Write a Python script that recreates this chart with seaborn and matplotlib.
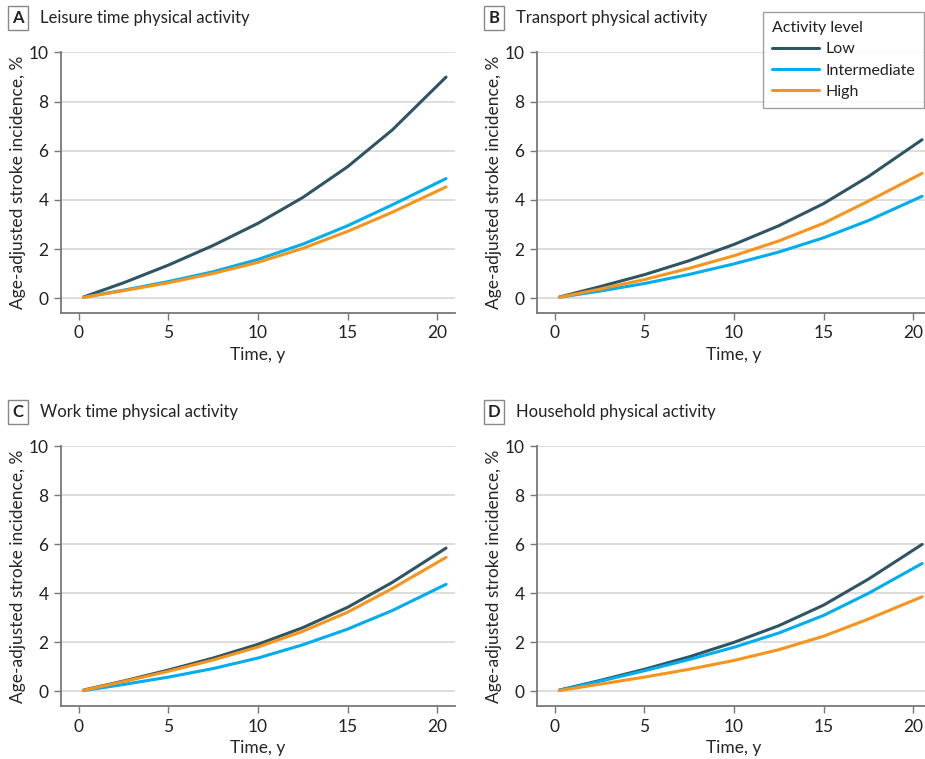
import matplotlib
matplotlib.use("Agg")
import matplotlib.pyplot as plt
from matplotlib.lines import Line2D
import seaborn as sns
import pandas as pd

# ---------------- data ----------------
time_y = [0.25, 2.5, 5, 7.5, 10, 12.5, 15, 17.5, 20.5]
levels = ["Low", "Intermediate", "High"]

leisure_low = [0.05, 0.63, 1.35, 2.15, 3.05, 4.1, 5.35, 6.85, 9.0]
leisure_int = [0.04, 0.33, 0.68, 1.08, 1.58, 2.2, 2.95, 3.8, 4.87]
leisure_high = [0.03, 0.31, 0.63, 1.01, 1.46, 2.03, 2.72, 3.5, 4.53]

transport_low = [0.05, 0.47, 0.96, 1.53, 2.19, 2.95, 3.85, 4.95, 6.45]
transport_int = [0.04, 0.29, 0.6, 0.97, 1.4, 1.88, 2.46, 3.16, 4.15]
transport_high = [0.04, 0.37, 0.76, 1.22, 1.73, 2.33, 3.05, 3.95, 5.08]

work_low = [0.05, 0.42, 0.87, 1.36, 1.92, 2.6, 3.43, 4.45, 5.85]
work_int = [0.03, 0.28, 0.58, 0.93, 1.36, 1.9, 2.54, 3.3, 4.37]
work_high = [0.04, 0.4, 0.82, 1.28, 1.81, 2.45, 3.23, 4.2, 5.47]

house_low = [0.05, 0.44, 0.9, 1.41, 2.0, 2.68, 3.52, 4.58, 6.0]
house_int = [0.04, 0.41, 0.84, 1.3, 1.8, 2.38, 3.1, 4.0, 5.22]
house_high = [0.03, 0.29, 0.58, 0.9, 1.26, 1.7, 2.25, 2.95, 3.86]

panels = [
    ("A", "Leisure time physical activity", leisure_low, leisure_int, leisure_high),
    ("B", "Transport physical activity", transport_low, transport_int, transport_high),
    ("C", "Work time physical activity", work_low, work_int, work_high),
    ("D", "Household physical activity", house_low, house_int, house_high),
]

x_ticks = [0, 5, 10, 15, 20]
y_ticks = [0, 2, 4, 6, 8, 10]

colors = {"Low": "#2f5562", "Intermediate": "#00adee", "High": "#f7941d"}

# ---------------- style ----------------
sns.set_theme(style="white")
plt.rcParams["font.family"] = ["Lato", "DejaVu Sans"]
plt.rcParams["text.color"] = "#222222"

W, H = 925, 759
fig = plt.figure(figsize=(W / 100, H / 100), dpi=100)


def rect(l, t, r, b):
    return [l / W, 1 - b / H, (r - l) / W, (b - t) / H]


geoms = [
    (61, 52, 455, 313),
    (537, 52, 931, 313),
    (61, 446, 455, 706),
    (537, 446, 931, 706),
]

spine_col = "#777777"
for (letter, title, lo, mid, hi), (l, t, r, b) in zip(panels, geoms):
    ax = fig.add_axes(rect(l, t, r, b))
    df = pd.DataFrame({
        "Time": time_y * 3,
        "Incidence": lo + mid + hi,
        "Activity level": [levels[0]] * len(time_y) + [levels[1]] * len(time_y) + [levels[2]] * len(time_y),
    })
    sns.lineplot(data=df, x="Time", y="Incidence", hue="Activity level",
                 hue_order=levels, palette=colors, linewidth=2.2,
                 legend=False, ax=ax, zorder=3)
    ax.set_xlim(-1, 21)
    ax.set_ylim(-0.6, 10.02)
    ax.set_xticks(x_ticks)
    ax.set_yticks(y_ticks)
    ax.yaxis.grid(True, color="#dddddd", linewidth=1.4, zorder=0)
    ax.xaxis.grid(False)
    for s in ["top", "right"]:
        ax.spines[s].set_visible(False)
    for s in ["left", "bottom"]:
        ax.spines[s].set_color(spine_col)
        ax.spines[s].set_linewidth(1.3)
    ax.spines["left"].set_bounds(-0.6, 10)
    ax.tick_params(axis="both", which="major", direction="out", length=5,
                   width=1.0, color=spine_col, labelsize=12.5,
                   labelcolor="#222222", left=True, bottom=True, pad=4)
    ax.set_xlabel("Time, y", fontsize=12.5)
    ax.set_ylabel("Age-adjusted stroke incidence, %", fontsize=12.5)
    ax.xaxis.set_label_coords(0.5, -0.13)
    ax.yaxis.set_label_coords(-0.09, 0.5)

    # panel label and title
    ty = t - 34
    fig.text((l - 43) / W, 1 - ty / H, letter, fontsize=12, fontweight="bold",
             ha="center", va="center",
             bbox=dict(boxstyle="square,pad=0.25", fc="white", ec="#888888", lw=1.0))
    fig.text((l - 21) / W, 1 - ty / H, title, fontsize=12, ha="left", va="center")

# legend
handles = [Line2D([0], [0], color=colors[k], lw=2.2) for k in levels]
leg = fig.legend(handles, levels, title="Activity level",
                 loc="upper right", bbox_to_anchor=(1.008, 1 - 4 / H),
                 fontsize=11.5, title_fontsize=11.5, frameon=True, fancybox=False,
                 handlelength=3.0, handletextpad=0.4, labelspacing=0.45,
                 borderpad=0.55, alignment="left")
leg.get_frame().set_edgecolor("#888888")
leg.get_frame().set_linewidth(1.0)

fig.savefig("out.png", dpi=100)
